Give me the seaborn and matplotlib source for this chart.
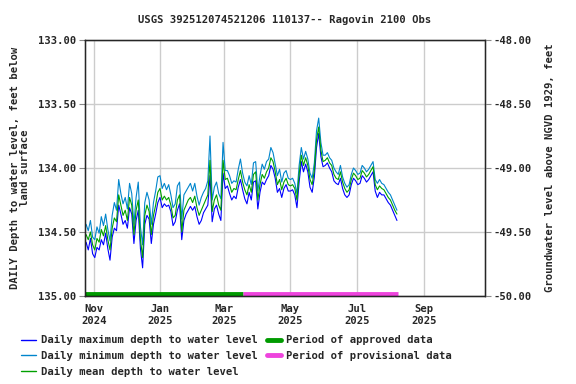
import matplotlib
matplotlib.use("Agg")
import matplotlib.pyplot as plt
import matplotlib.dates as mdates
from matplotlib.lines import Line2D
import numpy as np
import pandas as pd
import seaborn as sns

# ---------------- data ----------------
start_date = "2024-10-25"
step_days = 2

daily_mean = [
    134.52, 134.56, 134.50, 134.60, 134.64, 134.55, 134.58, 134.48, 134.53, 134.45,
    134.56, 134.64, 134.47, 134.39, 134.42, 134.21, 134.29, 134.37, 134.33, 134.41,
    134.23, 134.29, 134.52, 134.33, 134.25, 134.56, 134.70, 134.37, 134.29, 134.34,
    134.52, 134.37, 134.29, 134.19, 134.16, 134.25, 134.22, 134.25, 134.23, 134.29,
    134.39, 134.37, 134.25, 134.21, 134.50, 134.33, 134.29, 134.25, 134.23, 134.27,
    134.22, 134.31, 134.37, 134.33, 134.29, 134.25, 134.21, 133.94, 134.34, 134.25,
    134.21, 134.29, 134.33, 133.94, 134.09, 134.08, 134.13, 134.19, 134.16, 134.17,
    134.09, 134.02, 134.11, 134.17, 134.21, 134.13, 134.19, 134.05, 134.03, 134.25,
    134.13, 134.05, 134.08, 134.03, 134.00, 133.92, 133.95, 134.03, 134.13, 134.09,
    134.17, 134.11, 134.08, 134.13, 134.14, 134.13, 134.16, 134.25, 134.05, 133.90,
    133.98, 133.92, 133.98, 134.09, 134.13, 134.02, 133.78, 133.68, 133.86, 133.95,
    133.94, 133.92, 133.96, 133.98, 134.05, 134.08, 134.09, 134.03, 134.11, 134.16,
    134.19, 134.17, 134.09, 134.04, 134.06, 134.09, 134.08, 134.02, 134.04, 134.07,
    134.05, 134.02, 133.99, 134.13, 134.17, 134.14, 134.16, 134.17, 134.20, 134.23,
    134.25, 134.29, 134.33, 134.36,
]

daily_max = [
    134.58, 134.64, 134.55, 134.67, 134.70, 134.62, 134.64, 134.56, 134.60, 134.51,
    134.63, 134.72, 134.54, 134.47, 134.49, 134.29, 134.36, 134.44, 134.41, 134.47,
    134.31, 134.36, 134.59, 134.41, 134.33, 134.63, 134.78, 134.44, 134.37, 134.40,
    134.59, 134.44, 134.36, 134.27, 134.23, 134.31, 134.28, 134.30, 134.29, 134.34,
    134.45, 134.42, 134.33, 134.28, 134.56, 134.41, 134.36, 134.33, 134.30, 134.33,
    134.30, 134.38, 134.44, 134.41, 134.35, 134.32, 134.29, 134.06, 134.42, 134.32,
    134.29, 134.36, 134.41, 134.04, 134.16, 134.14, 134.20, 134.25, 134.22, 134.24,
    134.15, 134.09, 134.17, 134.24, 134.28, 134.19, 134.25, 134.11, 134.10, 134.32,
    134.19, 134.11, 134.13, 134.09, 134.06, 133.98, 134.01, 134.08, 134.19, 134.16,
    134.23, 134.16, 134.13, 134.18, 134.18, 134.17, 134.21, 134.31, 134.11, 133.95,
    134.03, 133.97, 134.03, 134.15, 134.19, 134.07, 133.84, 133.73, 133.91, 133.99,
    133.98, 133.96, 134.00, 134.03, 134.10, 134.12, 134.13, 134.08, 134.16, 134.21,
    134.23, 134.21, 134.13, 134.08, 134.10, 134.13, 134.12, 134.06, 134.08, 134.11,
    134.09, 134.06, 134.03, 134.18, 134.23, 134.19, 134.21, 134.21, 134.24, 134.27,
    134.29, 134.33, 134.37, 134.41,
]

daily_min = [
    134.44, 134.49, 134.41, 134.54, 134.56, 134.46, 134.51, 134.38, 134.45, 134.36,
    134.48, 134.57, 134.37, 134.27, 134.33, 134.09, 134.20, 134.28, 134.23, 134.32,
    134.12, 134.20, 134.44, 134.23, 134.11, 134.46, 134.60, 134.27, 134.19, 134.25,
    134.44, 134.27, 134.18, 134.07, 134.06, 134.16, 134.12, 134.17, 134.13, 134.21,
    134.31, 134.28, 134.14, 134.11, 134.40, 134.21, 134.18, 134.15, 134.12, 134.18,
    134.12, 134.22, 134.29, 134.23, 134.19, 134.16, 134.10, 133.75, 134.25, 134.15,
    134.11, 134.20, 134.24, 133.80, 134.02, 134.02, 134.06, 134.12, 134.10, 134.11,
    134.01, 133.93, 134.04, 134.11, 134.14, 134.06, 134.13, 133.96, 133.95, 134.18,
    134.06, 133.97, 134.01, 133.95, 133.93, 133.84, 133.88, 133.97, 134.06, 134.01,
    134.11, 134.04, 134.02, 134.08, 134.09, 134.08, 134.12, 134.20, 133.98, 133.84,
    133.93, 133.87, 133.93, 134.04, 134.08, 133.96, 133.71, 133.61, 133.80, 133.90,
    133.90, 133.88, 133.92, 133.94, 134.00, 134.03, 134.05, 133.98, 134.07, 134.12,
    134.15, 134.13, 134.05, 134.00, 134.02, 134.05, 134.04, 133.98, 134.00, 134.03,
    134.01, 133.98, 133.95, 134.09, 134.12, 134.09, 134.12, 134.13, 134.16, 134.19,
    134.21, 134.25, 134.29, 134.33,
]

approved_period = ("2024-10-24", "2025-03-18")
provisional_period = ("2025-03-18", "2025-08-08")

x_ticks = ["2024-11-01", "2025-01-01", "2025-03-01", "2025-05-01", "2025-07-01", "2025-09-01"]
x_tick_labels = ["Nov\n2024", "Jan\n2025", "Mar\n2025", "May\n2025", "Jul\n2025", "Sep\n2025"]
left_ticks = [133.0, 133.5, 134.0, 134.5, 135.0]
right_ticks = [-48.0, -48.5, -49.0, -49.5, -50.0]

title = "USGS 392512074521206 110137-- Ragovin 2100 Obs"
left_label = "DAILY Depth to water level, feet below\nland surface"
right_label = "Groundwater level above NGVD 1929, feet"
labels = ["Daily maximum depth to water level",
          "Daily minimum depth to water level",
          "Daily mean depth to water level",
          "Period of approved data",
          "Period of provisional data"]

# ---------------- styling ----------------
sns.set_style("white")
plt.rcParams['font.family'] = ['DejaVu Sans Mono']
plt.rcParams['font.weight'] = 'bold'
FS = 7.6

c_max = "#0000ff"
c_min = "#0085cc"
c_mean = "#00a000"
c_appr = "#009a00"
c_prov = "#ee44dd"

dates = pd.date_range(start_date, periods=len(daily_mean), freq=f"{step_days}D")
df = pd.DataFrame({"date": dates, "max": daily_max, "min": daily_min, "mean": daily_mean})

fig = plt.figure(figsize=(5.76, 3.84), dpi=100)
ax = fig.add_axes([85 / 576, 1 - 296 / 384, 400 / 576, 256 / 384])

sns.lineplot(data=df, x="date", y="max", ax=ax, color=c_max, lw=0.8)
sns.lineplot(data=df, x="date", y="min", ax=ax, color=c_min, lw=0.8)
sns.lineplot(data=df, x="date", y="mean", ax=ax, color=c_mean, lw=0.8)

ax.plot(pd.to_datetime(list(approved_period)), [134.985, 134.985], color=c_appr, lw=3.5,
        solid_capstyle="butt")
ax.plot(pd.to_datetime(list(provisional_period)), [134.985, 134.985], color=c_prov, lw=3.5,
        solid_capstyle="butt")

ax.set_xlim(pd.Timestamp("2024-10-24"), pd.Timestamp("2025-10-27"))
ax.set_ylim(135.0, 133.0)
ax.set_yticks(left_ticks)
ax.set_yticklabels([f"{v:.2f}" for v in left_ticks], fontsize=FS, fontweight="bold")
ax.set_xticks(pd.to_datetime(x_ticks))
ax.set_xticklabels(x_tick_labels, fontsize=FS, fontweight="bold")
ax.grid(True, color="#cccccc", lw=1)
ax.set_axisbelow(True)
ax.tick_params(axis="both", length=4, width=0.8, color="#888888", pad=2)
ax.set_xlabel("")
ax.set_ylabel(left_label, fontsize=FS, fontweight="bold", labelpad=6, linespacing=1.0)
for s in ax.spines.values():
    s.set_color("black")
    s.set_linewidth(1.0)

ax2 = ax.twinx()
ax2.set_ylim(-50.0, -48.0)
ax2.set_yticks(right_ticks)
ax2.set_yticklabels([f"{v:.2f}" for v in right_ticks], fontsize=FS, fontweight="bold")
ax2.tick_params(axis="y", length=4, width=0.8, color="#888888", pad=2)
ax2.set_ylabel(right_label, fontsize=FS, fontweight="bold", labelpad=10)
ax2.grid(False)

ax.set_title(title, fontsize=FS, fontweight="bold", pad=12)

handles = [Line2D([], [], color=c_max, lw=1),
           Line2D([], [], color=c_min, lw=1),
           Line2D([], [], color=c_mean, lw=1),
           Line2D([], [], color=c_appr, lw=3.5),
           Line2D([], [], color=c_prov, lw=3.5)]
fig.legend(handles, labels, loc="upper left", bbox_to_anchor=(0.037, 0.127), ncol=2,
           frameon=False, handlelength=1.4, handletextpad=0.45,
           columnspacing=0.85, labelspacing=0.55, borderaxespad=0, borderpad=0,
           prop={"weight": "bold", "size": FS})

fig.savefig("out.png", dpi=100)
